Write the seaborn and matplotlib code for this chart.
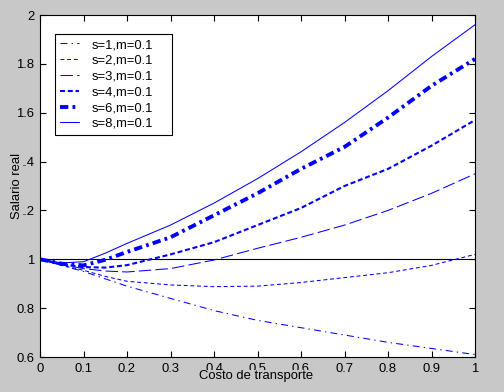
import numpy as np
import pandas as pd
import matplotlib
matplotlib.use("Agg")
import matplotlib.pyplot as plt
import seaborn as sns

# costo de transporte
costo = [0.0, 0.05, 0.1, 0.15, 0.2, 0.3, 0.4, 0.5, 0.6, 0.7, 0.8, 0.9, 1.0]

# salario real, one series per sigma (m=0.1)
salario_s1 = [1.0, 0.975, 0.95, 0.92, 0.89, 0.84, 0.79, 0.75, 0.72, 0.69, 0.66, 0.635, 0.61]
salario_s2 = [1.0, 0.975, 0.955, 0.93, 0.91, 0.895, 0.888, 0.89, 0.905, 0.925, 0.945, 0.975, 1.02]
salario_s3 = [1.0, 0.978, 0.962, 0.952, 0.948, 0.962, 0.997, 1.045, 1.09, 1.14, 1.20, 1.27, 1.35]
salario_s4 = [1.0, 0.98, 0.968, 0.966, 0.976, 1.02, 1.07, 1.14, 1.21, 1.30, 1.37, 1.465, 1.57]
salario_s6 = [1.0, 0.982, 0.975, 0.998, 1.03, 1.09, 1.18, 1.27, 1.37, 1.46, 1.58, 1.71, 1.82]
salario_s8 = [1.0, 0.985, 0.99, 1.025, 1.065, 1.14, 1.23, 1.33, 1.44, 1.56, 1.69, 1.83, 1.96]

labels = ["s=1,m=0.1", "s=2,m=0.1", "s=3,m=0.1", "s=4,m=0.1", "s=6,m=0.1", "s=8,m=0.1"]
series = [salario_s1, salario_s2, salario_s3, salario_s4, salario_s6, salario_s8]
nivel_referencia = 1.0

x_ticks = [0, 0.1, 0.2, 0.3, 0.4, 0.5, 0.6, 0.7, 0.8, 0.9, 1]
x_ticklabels = ["0", "0.1", "0.2", "0.3", "0.4", "0.5", "0.6", "0.7", "0.8", "0.9", "1"]
y_ticks = [0.6, 0.8, 1.0, 1.2, 1.4, 1.6, 1.8, 2.0]
y_ticklabels = ["0.6", "0.8", "1", "1.2", "1.4", "1.6", "1.8", "2"]

# line styles (dashes in points, not scaled by width)
styles = [
    dict(lw=0.75, dashes=(5, 3, 1, 3)),
    dict(lw=0.75, dashes=(2.8, 2)),
    dict(lw=0.75, dashes=(9, 3)),
    dict(lw=1.5, dashes=(3.6, 2)),
    dict(lw=2.8, dashes=(6, 3, 2, 3)),
    dict(lw=0.75, dashes=()),
]

bg = "#c8c8c8"
sns.set_theme(style="white")
plt.rcParams["font.family"] = ["Liberation Sans", "DejaVu Sans"]
plt.rcParams["lines.scale_dashes"] = False
fs = 9.4

fig = plt.figure(figsize=(5.04, 3.92), dpi=100, facecolor=bg)
ax = fig.add_axes([40 / 504, 35 / 392, 435 / 504, 342 / 392])
ax.set_facecolor("white")

df = pd.DataFrame({"costo": costo})
for lab, vals, st in zip(labels, series, styles):
    df[lab] = vals
    sns.lineplot(x=df["costo"], y=df[lab], ax=ax, color="#0000ff",
                 lw=st["lw"], label=lab)
    l = ax.get_lines()[-1]
    if st["dashes"]:
        l.set_dashes(st["dashes"])
    l.set_dash_capstyle("butt")

ax.axhline(nivel_referencia, color="black", lw=0.8, zorder=1)

ax.set_xlim(0, 1)
ax.set_ylim(0.6, 2)
ax.set_xticks(x_ticks)
ax.set_xticklabels(x_ticklabels, fontsize=fs, color="black")
ax.set_yticks(y_ticks)
ax.set_yticklabels(y_ticklabels, fontsize=fs, color="black")
ax.tick_params(direction="in", length=4, width=0.8, color="black",
               top=True, right=True, bottom=True, left=True, pad=4)
for sp in ax.spines.values():
    sp.set_color("black")
    sp.set_linewidth(0.8)

# labels sit over the tick labels with a grey box, as in the original
lab_box = dict(facecolor=bg, edgecolor="none", pad=0)
ax.set_xlabel("Costo de transporte", fontsize=fs, color="black", va="center", bbox=lab_box)
ax.xaxis.set_label_coords(0.496, -0.057)
ax.set_ylabel("Salario real", fontsize=fs, color="black", va="center", bbox=lab_box)
ax.yaxis.set_label_coords(-0.053, 0.5)

leg = ax.legend(loc="upper left", bbox_to_anchor=(15 / 435, 323 / 342, 117 / 435, 0.001),
                mode="expand", fontsize=fs, frameon=True, fancybox=False,
                edgecolor="black", framealpha=1, borderpad=0.4, labelspacing=0.28,
                handlelength=1.4, handletextpad=1.0, borderaxespad=0)
leg.get_frame().set_linewidth(0.8)
for t in leg.get_texts():
    t.set_color("black")

fig.savefig("out.png", dpi=100, facecolor=bg)
